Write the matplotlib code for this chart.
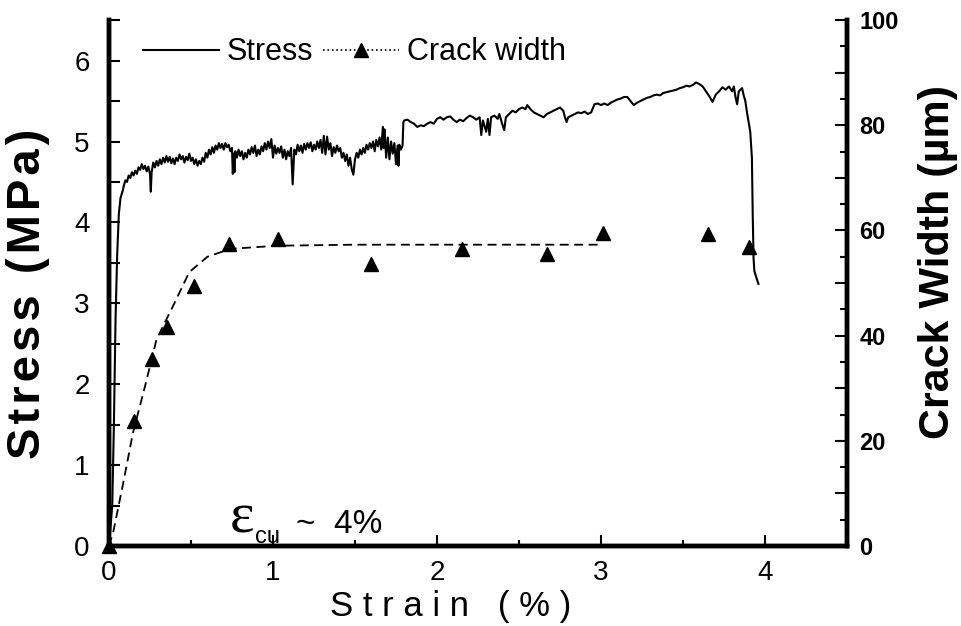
import matplotlib
matplotlib.use('Agg')
import matplotlib.pyplot as plt
from matplotlib.ticker import MultipleLocator, FuncFormatter
from matplotlib.lines import Line2D

plt.rcParams['font.family'] = ['Liberation Sans', 'DejaVu Sans']

# stress-strain record (strain %, stress MPa)
strain = [0.00, 0.02, 0.03, 0.04, 0.05, 0.06, 0.07, 0.085,
          0.09, 0.10, 0.11, 0.12, 0.13, 0.14, 0.15, 0.16, 0.17, 0.18, 0.19, 0.20,
          0.21, 0.22, 0.23, 0.24, 0.25, 0.255, 0.26, 0.27, 0.28, 0.29, 0.30,
          0.31, 0.32, 0.33, 0.34, 0.35, 0.36, 0.37, 0.38, 0.39, 0.40,
          0.41, 0.42, 0.43, 0.44, 0.45, 0.46, 0.47, 0.48, 0.49, 0.50,
          0.51, 0.52, 0.53, 0.54, 0.55, 0.56, 0.57, 0.58, 0.59, 0.60,
          0.61, 0.62, 0.63, 0.64, 0.65, 0.66, 0.67, 0.68, 0.69, 0.70,
          0.71, 0.72, 0.73, 0.74, 0.75, 0.755, 0.76, 0.765, 0.77, 0.78, 0.79, 0.80,
          0.81, 0.82, 0.83, 0.84, 0.85, 0.86, 0.87, 0.88, 0.89, 0.90,
          0.91, 0.92, 0.93, 0.94, 0.95, 0.96, 0.97, 0.98, 0.99, 1.00,
          1.01, 1.02, 1.03, 1.04, 1.05, 1.06, 1.07, 1.08, 1.09, 1.10,
          1.11, 1.12, 1.13, 1.14, 1.15, 1.16, 1.17, 1.18, 1.19, 1.20,
          1.21, 1.22, 1.23, 1.24, 1.25, 1.26, 1.27, 1.28, 1.29, 1.30,
          1.31, 1.32, 1.33, 1.34, 1.35, 1.36, 1.37, 1.38, 1.39, 1.40,
          1.41, 1.42, 1.43, 1.44, 1.45, 1.46, 1.47, 1.48, 1.49, 1.50,
          1.51, 1.52, 1.53, 1.54, 1.55, 1.56, 1.57, 1.58, 1.59, 1.60,
          1.61, 1.62, 1.63, 1.64, 1.65, 1.66, 1.67, 1.675, 1.68, 1.69, 1.70,
          1.71, 1.72, 1.73, 1.74, 1.75, 1.76, 1.765, 1.77, 1.78, 1.79, 1.795,
          1.80, 1.82, 1.84, 1.86, 1.88, 1.90, 1.92, 1.94, 1.96, 1.98, 2.00,
          2.02, 2.04, 2.06, 2.08, 2.10, 2.12, 2.14, 2.16, 2.18, 2.20,
          2.22, 2.24, 2.26, 2.27, 2.28, 2.30, 2.31, 2.32, 2.33, 2.35, 2.37, 2.38,
          2.40, 2.41, 2.42, 2.44, 2.46, 2.48, 2.50, 2.52, 2.54, 2.55, 2.57, 2.59,
          2.61, 2.63, 2.65, 2.67, 2.69, 2.71, 2.73, 2.75, 2.77, 2.78, 2.79, 2.80,
          2.82, 2.84, 2.86, 2.88, 2.90, 2.92, 2.94, 2.96, 2.98, 3.00,
          3.02, 3.04, 3.06, 3.08, 3.10, 3.12, 3.14, 3.16, 3.18, 3.20,
          3.22, 3.24, 3.26, 3.28, 3.30, 3.32, 3.34, 3.36, 3.38, 3.40,
          3.42, 3.44, 3.46, 3.48, 3.50, 3.52, 3.54, 3.56, 3.58, 3.60,
          3.62, 3.64, 3.66, 3.68, 3.70, 3.72, 3.74, 3.76, 3.78, 3.80,
          3.81, 3.82, 3.83, 3.84, 3.86, 3.87, 3.88, 3.89, 3.90, 3.91,
          3.92, 3.925, 3.93, 3.935, 3.95, 3.96]
stress = [0.00, 0.50, 1.50, 2.80, 3.60, 4.10, 4.30, 4.40,
          4.45, 4.52, 4.50, 4.58, 4.55, 4.62, 4.58, 4.64, 4.60, 4.68, 4.65, 4.72,
          4.66, 4.70, 4.63, 4.69, 4.60, 4.38, 4.62, 4.74, 4.68, 4.76, 4.70,
          4.78, 4.72, 4.80, 4.74, 4.82, 4.75, 4.81, 4.73, 4.79, 4.72,
          4.80, 4.76, 4.84, 4.78, 4.82, 4.74, 4.81, 4.77, 4.85, 4.76,
          4.80, 4.72, 4.78, 4.70, 4.76, 4.72, 4.80, 4.75, 4.86, 4.80,
          4.90, 4.84, 4.93, 4.86, 4.95, 4.90, 4.98, 4.92, 4.97, 4.90,
          4.98, 4.93, 4.96, 4.88, 4.92, 4.60, 4.85, 4.62, 4.88, 4.80, 4.90, 4.82,
          4.88, 4.78, 4.86, 4.80, 4.90, 4.84, 4.93, 4.86, 4.95, 4.82,
          4.90, 4.84, 4.94, 4.88, 4.98, 4.90, 5.00, 4.92, 5.03, 4.80,
          4.95, 4.85, 4.92, 4.86, 4.94, 4.80, 4.90, 4.78, 4.88, 4.82,
          4.92, 4.47, 4.90, 4.84, 4.96, 4.88, 4.95, 4.86, 4.97, 4.90,
          4.98, 4.92, 4.99, 4.88, 4.96, 4.90, 5.00, 4.92, 5.02, 4.86,
          5.07, 4.84, 5.06, 4.90, 4.98, 4.82, 4.93, 4.86, 4.95, 4.88,
          4.92, 4.80, 4.86, 4.76, 4.84, 4.70, 4.80, 4.66, 4.59, 4.78,
          4.86, 4.80, 4.90, 4.84, 4.92, 4.86, 4.96, 4.90, 4.98, 4.92,
          5.00, 4.88, 5.02, 4.94, 5.05, 4.90, 5.18, 4.92, 5.15, 4.80, 5.05,
          4.78, 5.00, 4.85, 4.98, 4.72, 4.95, 4.70, 4.96, 4.90, 4.95, 5.24,
          5.26, 5.27, 5.24, 5.22, 5.18, 5.20, 5.19, 5.22, 5.24, 5.22, 5.28,
          5.30, 5.27, 5.30, 5.31, 5.27, 5.24, 5.27, 5.25, 5.29, 5.32,
          5.30, 5.27, 5.30, 5.08, 5.26, 5.12, 5.28, 5.08, 5.30, 5.32, 5.28, 5.34,
          5.20, 5.14, 5.30, 5.34, 5.38, 5.36, 5.40, 5.42, 5.40, 5.45, 5.40, 5.36,
          5.34, 5.32, 5.30, 5.34, 5.36, 5.38, 5.40, 5.42, 5.38, 5.30, 5.24, 5.30,
          5.32, 5.34, 5.36, 5.35, 5.37, 5.34, 5.36, 5.46, 5.47, 5.45,
          5.47, 5.45, 5.48, 5.50, 5.52, 5.53, 5.55, 5.55, 5.50, 5.45,
          5.48, 5.50, 5.52, 5.54, 5.55, 5.57, 5.58, 5.57, 5.60, 5.61,
          5.62, 5.63, 5.64, 5.66, 5.67, 5.69, 5.68, 5.70, 5.73, 5.71,
          5.68, 5.62, 5.56, 5.49, 5.58, 5.62, 5.67, 5.64, 5.68, 5.62,
          5.68, 5.55, 5.46, 5.62, 5.66, 5.57, 5.50, 5.36, 5.24, 5.12,
          4.80, 4.10, 3.56, 3.40, 3.30, 3.24]

# measured crack widths (um)
cw_strain = [0.0, 0.155, 0.26, 0.354, 0.518, 0.73, 1.03, 1.60, 2.15, 2.67, 3.01, 3.65, 3.90]
cw_width = [0.0, 23.7, 35.5, 41.6, 49.4, 57.4, 58.4, 53.6, 56.5, 55.5, 59.5, 59.3, 56.9]

# fitted trend of crack width
fit_strain = [0.0, 0.025, 0.087, 0.146, 0.22, 0.29, 0.39, 0.49, 0.60, 0.74, 1.02, 1.5, 2.0, 2.5, 3.0]
fit_width = [0.0, 2.5, 12.0, 21.5, 30.4, 39.3, 45.6, 52.1, 55.0, 56.5, 57.1, 57.3, 57.3, 57.3, 57.3]

fig = plt.figure(figsize=(9.61, 6.26), dpi=100)
ax = fig.add_axes([0.1134, 0.1278, 0.768, 0.840])
ax2 = ax.twinx()

ax.plot(strain, stress, color='black', lw=1.5, zorder=3)
ax2.plot(fit_strain, fit_width, color='black', lw=1.3, linestyle=(0, (5, 3)))
ax2.plot(cw_strain, cw_width, linestyle='none', marker='^', ms=10,
         color='black', clip_on=False)

ax.set_xlim(0, 4.5)
ax.set_ylim(0, 6.5)
ax2.set_ylim(0, 100)

for a in (ax, ax2):
    a.spines['top'].set_visible(False)
    for s in ('left', 'right', 'bottom'):
        a.spines[s].set_linewidth(3.2)

ax.xaxis.set_major_locator(MultipleLocator(1))
ax.xaxis.set_minor_locator(MultipleLocator(0.5))
ax.yaxis.set_major_locator(MultipleLocator(1))
ax.yaxis.set_minor_locator(MultipleLocator(0.5))
ax.tick_params(axis='x', which='major', direction='in', length=8, width=1.5,
               labelsize=20, pad=10)
ax.tick_params(axis='x', which='minor', direction='in', length=4, width=1.5)
ax.tick_params(axis='y', which='both', direction='in', length=8, width=1.5,
               labelsize=20, pad=14)

ax2.yaxis.set_major_locator(MultipleLocator(10))
ax2.yaxis.set_minor_locator(MultipleLocator(5))
ax2.yaxis.set_major_formatter(FuncFormatter(lambda v, p: '%d' % v if v % 20 == 0 else ''))
ax2.tick_params(axis='y', which='major', direction='in', length=9, width=1.5,
                labelsize=17, pad=9)
ax2.tick_params(axis='y', which='minor', direction='in', length=5, width=1.5)
for lb in ax2.get_yticklabels():
    lb.set_fontweight('bold')

ax.set_xlabel('S t r a i n   ( % )', fontsize=25)
ax.xaxis.set_label_coords(0.463, -0.083)
# slightly letter-spaced like the original
ax.set_ylabel('\u200a'.join('Stress (MPa)'), fontsize=34, fontweight='bold')
ax.yaxis.set_label_coords(-0.080, 0.479)
ax2.set_ylabel('Crack Width (\u00b5m)', fontsize=31, fontweight='bold')
ax2.yaxis.set_label_coords(1.096, 0.54)

# strain capacity note
ax.text(0.163, 0.025, '\u03b5', transform=ax.transAxes, fontsize=42,
        family='Liberation Serif')
ax.text(0.198, 0.006, 'cu', transform=ax.transAxes, fontsize=17)
ax.text(0.253, 0.025, '~  4%', transform=ax.transAxes, fontsize=24)

handles = [Line2D([], [], color='black', lw=1.5),
           Line2D([], [], color='black', lw=1.2, linestyle=':', marker='^', ms=10)]
ax.legend(handles, ['Stress', 'Crack width'], loc='center left',
          bbox_to_anchor=(0.046, 0.939), ncol=2, frameon=False, fontsize=22,
          handlelength=2.5, handletextpad=0.25, columnspacing=0.3,
          borderpad=0, borderaxespad=0, numpoints=1)

fig.savefig('out.png', dpi=100)
